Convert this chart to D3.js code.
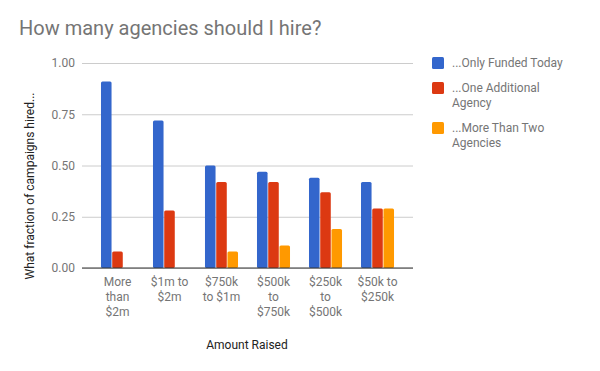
<!DOCTYPE html>
<html>
<head>
<meta charset="utf-8">
<script src="https://cdn.jsdelivr.net/npm/d3@7"></script>
<style>
    body { margin: 0; background: #fff; }
    text { font-family: Roboto, "Noto Sans", sans-serif; }
</style>
</head>
<body>
<div id="chart"></div>
<script>
// Agency hiring fractions by amount raised
const categories = [
    ["More", "than", "$2m"],
    ["$1m to", "$2m"],
    ["$750k", "to $1m"],
    ["$500k", "to", "$750k"],
    ["$250k", "to", "$500k"],
    ["$50k to", "$250k"]
];
const seriesNames = [
    ["...Only Funded Today"],
    ["...One Additional", "Agency"],
    ["...More Than Two", "Agencies"]
];
const onlyFunded = [0.91, 0.72, 0.50, 0.47, 0.44, 0.42];
const oneAdditional = [0.08, 0.28, 0.42, 0.42, 0.37, 0.29];
const moreThanTwo = [0, 0, 0.08, 0.11, 0.19, 0.29];
const yTicks = [0, 0.25, 0.5, 0.75, 1];

const colors = ["#3366cc", "#dc3912", "#ff9900"];
const series = [onlyFunded, oneAdditional, moreThanTwo];

const width = 600, height = 371;
const plot = { left: 82, right: 413, top: 63, bottom: 268 };

const svg = d3.select("#chart")
    .append("svg")
    .attr("width", width)
    .attr("height", height);

const catKeys = categories.map((c, i) => i);

const x0 = d3.scaleBand()
    .domain(catKeys)
    .range([plot.left, plot.right])
    .padding(0.365);

const x1 = d3.scaleBand()
    .domain([0, 1, 2])
    .range([0, x0.bandwidth()])
    .paddingInner(0.06);

const y = d3.scaleLinear()
    .domain([0, 1])
    .range([plot.bottom, plot.top]);

// title
svg.append("text")
    .attr("x", 19)
    .attr("y", 35)
    .attr("font-size", 20)
    .attr("fill", "#757575")
    .text("How many agencies should I hire?");

// gridlines + y ticks
const yAxis = svg.append("g")
    .attr("transform", `translate(${plot.left},0)`)
    .call(d3.axisLeft(y).tickValues(yTicks).tickFormat(d3.format(".2f"))
        .tickSize(-(plot.right - plot.left)).tickPadding(7));
yAxis.select(".domain").remove();
yAxis.selectAll(".tick line").attr("stroke", "#cccccc");
yAxis.selectAll(".tick text")
    .attr("font-size", 12)
    .attr("fill", "#757575")
    .attr("font-family", "Roboto, sans-serif");

// bars
const groups = svg.append("g")
    .selectAll("g")
    .data(catKeys)
    .join("g")
    .attr("transform", d => `translate(${x0(d)},0)`);

groups.selectAll("rect")
    .data(i => series.map((s, k) => ({ k, v: s[i] })).filter(d => d.v > 0))
    .join("rect")
    .attr("x", d => x1(d.k))
    .attr("y", d => y(d.v))
    .attr("width", x1.bandwidth())
    .attr("height", d => y(0) - y(d.v))
    .attr("rx", 1.5)
    .attr("fill", d => colors[d.k]);

// baseline
svg.append("line")
    .attr("x1", plot.left)
    .attr("x2", plot.right)
    .attr("y1", y(0))
    .attr("y2", y(0))
    .attr("stroke", "#333")
    .attr("stroke-width", 1);

// x labels
const xl = svg.append("g")
    .selectAll("text")
    .data(catKeys)
    .join("text")
    .attr("text-anchor", "middle")
    .attr("font-size", 12)
    .attr("fill", "#757575")
    .attr("x", d => x0(d) + x0.bandwidth() / 2)
    .attr("y", 286);
xl.selectAll("tspan")
    .data(d => categories[d])
    .join("tspan")
    .attr("x", function () { return d3.select(this.parentNode).attr("x"); })
    .attr("dy", (d, i) => i === 0 ? 0 : 15)
    .text(d => d);

// axis titles
svg.append("text")
    .attr("x", 247)
    .attr("y", 349)
    .attr("text-anchor", "middle")
    .attr("font-size", 12)
    .attr("fill", "#222")
    .text("Amount Raised");

svg.append("text")
    .attr("transform", "translate(34,186) rotate(-90)")
    .attr("text-anchor", "middle")
    .attr("font-size", 12)
    .attr("fill", "#222")
    .text("What fraction of campaigns hired...");

// legend
const legendY = [57, 82, 122];
const legend = svg.append("g")
    .selectAll("g")
    .data(seriesNames)
    .join("g")
    .attr("transform", (d, i) => `translate(432,${legendY[i]})`);

legend.append("rect")
    .attr("width", 12)
    .attr("height", 12)
    .attr("rx", 1.5)
    .attr("fill", (d, i) => colors[i]);

legend.append("text")
    .attr("font-size", 12)
    .attr("fill", "#757575")
    .attr("y", 10)
    .selectAll("tspan")
    .data(d => d)
    .join("tspan")
    .attr("x", 20)
    .attr("dy", (d, i) => i === 0 ? 0 : 14.5)
    .text(d => d);
</script>
</body>
</html>
